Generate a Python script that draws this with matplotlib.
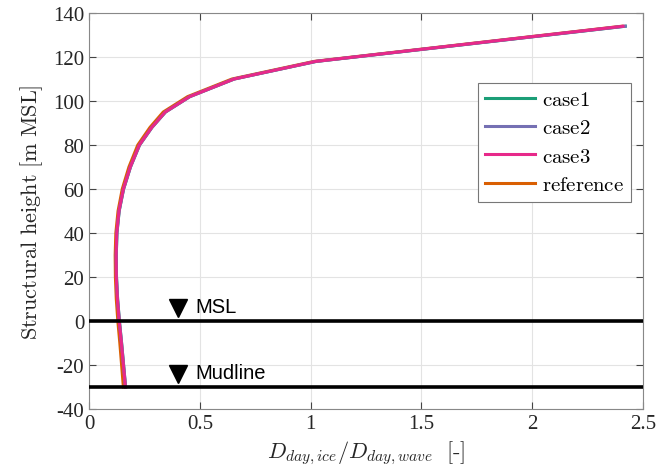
import matplotlib
matplotlib.use('Agg')
import matplotlib.pyplot as plt
import matplotlib.ticker as ticker
from matplotlib.lines import Line2D
import numpy as np

# structural height [m MSL] and damage ratio
heights = [-30, -20, -10, 0, 10, 20, 30, 40, 50, 60, 70, 80, 88, 95, 102, 110, 118, 134]
reference = [0.155, 0.147, 0.139, 0.130, 0.123, 0.119, 0.118, 0.121, 0.131, 0.150, 0.180, 0.220, 0.275, 0.335, 0.445, 0.645, 1.015, 2.405]
case1 = [0.165, 0.156, 0.147, 0.137, 0.129, 0.124, 0.123, 0.126, 0.136, 0.156, 0.187, 0.228, 0.284, 0.345, 0.455, 0.655, 1.025, 2.42]
case2 = [0.165, 0.156, 0.147, 0.137, 0.129, 0.124, 0.123, 0.126, 0.136, 0.156, 0.187, 0.228, 0.284, 0.345, 0.455, 0.655, 1.025, 2.42]
case3 = [0.164, 0.155, 0.146, 0.136, 0.128, 0.123, 0.122, 0.125, 0.135, 0.155, 0.186, 0.227, 0.283, 0.344, 0.454, 0.654, 1.022, 2.41]

msl = 0
mudline = -30

plt.rcParams['mathtext.fontset'] = 'cm'
plt.rcParams['font.family'] = 'serif'
plt.rcParams['font.serif'] = ['Liberation Serif', 'DejaVu Serif']

txt = '#262626'

fig = plt.figure(figsize=(6.57, 4.77), dpi=100)
ax = fig.add_axes([0.1355, 0.1405, 0.8432, 0.8301])

ax.plot(reference, heights, color='#d95f02', lw=2.2, zorder=3)
ax.plot(case1, heights, color='#1b9e77', lw=2.2, zorder=4)
ax.plot(case2, heights, color='#7570b3', lw=2.2, zorder=5)
ax.plot(case3, heights, color='#e7298a', lw=2.2, zorder=6)

ax.axhline(msl, color='black', lw=2.6, zorder=7)
ax.axhline(mudline, color='black', lw=2.6, zorder=7)
ax.plot([0.4], [msl + 6], marker='v', color='black', ms=13, zorder=8)
ax.plot([0.4], [mudline + 6], marker='v', color='black', ms=13, zorder=8)
ax.text(0.48, msl + 6.5, 'MSL', family='Liberation Sans', fontsize=14.5, va='center', ha='left')
ax.text(0.48, mudline + 6.5, 'Mudline', family='Liberation Sans', fontsize=14.5, va='center', ha='left')

ax.set_xlim(0, 2.5)
ax.set_ylim(-40, 140)
ax.set_xticks([0, 0.5, 1, 1.5, 2, 2.5])
ax.set_yticks(np.arange(-40, 141, 20))
ax.xaxis.set_major_formatter(ticker.FuncFormatter(lambda v, p: '%g' % v))
ax.yaxis.set_major_formatter(ticker.FuncFormatter(lambda v, p: '%g' % v))
ax.tick_params(direction='in', top=True, right=True, labelsize=15, length=5,
               color='#444444', labelcolor=txt)
ax.grid(True, color='#e3e3e3', lw=0.8)
ax.set_axisbelow(True)
for s in ax.spines.values():
    s.set_color('#888888')

ax.set_xlabel(r'$D_{day,ice}/D_{day,wave}\ \ [\text{-}]$', fontsize=16, labelpad=4, color=txt)
ax.set_ylabel(r'$\mathrm{Structural\ height\ [m\ MSL]}$', fontsize=16, labelpad=6, color=txt)

handles = [Line2D([], [], color=c, lw=2.2) for c in ['#1b9e77', '#7570b3', '#e7298a', '#d95f02']]
labels = [r'$\mathrm{case1}$', r'$\mathrm{case2}$', r'$\mathrm{case3}$', r'$\mathrm{reference}$']
leg = ax.legend(handles, labels, loc='upper right', bbox_to_anchor=(0.978, 0.823), fontsize=15,
                fancybox=False, edgecolor='#777777', framealpha=1, handlelength=2.4,
                handletextpad=0.3, borderpad=0.35, labelspacing=0.42, borderaxespad=0)
leg.get_frame().set_linewidth(0.8)

fig.savefig('out.png', dpi=100)
